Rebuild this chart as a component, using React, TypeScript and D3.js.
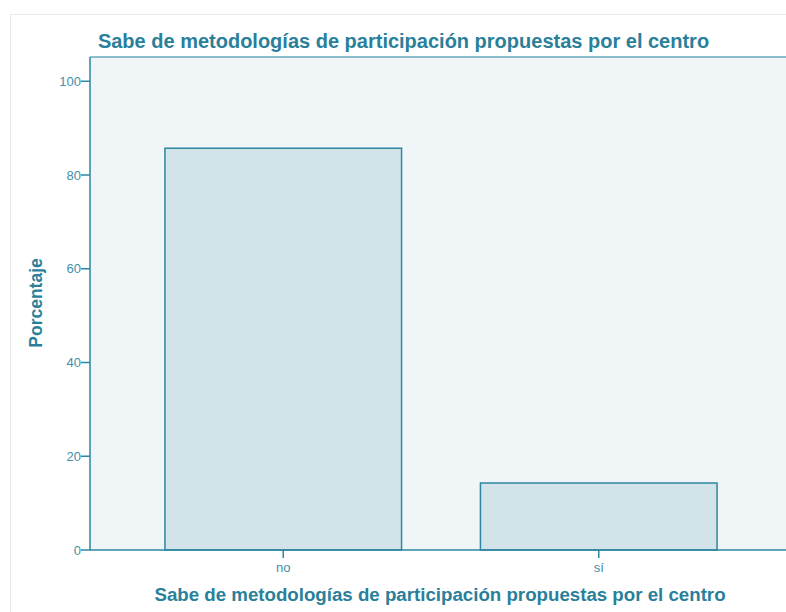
import React from "react";
import * as d3 from "d3";

const categories = ["no", "sí"];
const values = [85.71, 14.29];
const yTicks = [0, 20, 40, 60, 80, 100];
const title = "Sabe de metodologías de participación propuestas por el centro";
const xTitle = "Sabe de metodologías de participación propuestas por el centro";
const yTitle = "Porcentaje";

const W = 786;
const H = 612;
const plotLeft = 90;
const plotTop = 57;
const plotBottom = 550;
const plotRight = 800;

const dark = "#2a7f9a";
const axisColor = "#2e86a0";
const tickText = "#3f90a8";

export default function App() {
  const y = d3.scaleLinear().domain([0, 100]).range([plotBottom, 81.25]);
  const x = d3
    .scaleBand<string>()
    .domain(categories)
    .range([125.5, 756.5])
    .paddingInner(0.25)
    .paddingOuter(0.125);

  return (
    <svg
      width={W}
      height={H}
      style={{ position: "absolute", left: 0, top: 0, display: "block", fontFamily: "Liberation Sans, Arial, sans-serif" }}
    >
      <rect x={0} y={0} width={W} height={H} fill="#ffffff" />
      <rect x={10.5} y={14.5} width={W + 20} height={H + 20} fill="#ffffff" stroke="#e3ecef" strokeWidth={1} />
      <text x={403.5} y={48} textAnchor="middle" fontSize={20} fontWeight="bold" fill={dark}>
        {title}
      </text>
      <rect x={plotLeft} y={plotTop} width={plotRight - plotLeft} height={plotBottom - plotTop} fill="#f0f5f8" />
      <line x1={plotLeft} x2={plotRight} y1={plotTop} y2={plotTop} stroke="#6aa9bb" strokeWidth={1.5} />
      {categories.map((c, i) => (
        <rect
          key={c}
          x={x(c)}
          y={y(values[i])}
          width={x.bandwidth()}
          height={plotBottom - y(values[i])}
          fill="#d2e4ea"
          stroke={axisColor}
          strokeWidth={1.5}
        />
      ))}
      <line x1={plotLeft} x2={plotLeft} y1={plotTop} y2={plotBottom} stroke={axisColor} strokeWidth={1.5} />
      <line x1={plotLeft} x2={plotRight} y1={plotBottom} y2={plotBottom} stroke={axisColor} strokeWidth={1.5} />
      {yTicks.map((t) => (
        <g key={t}>
          <line x1={plotLeft - 9} x2={plotLeft} y1={y(t)} y2={y(t)} stroke={axisColor} strokeWidth={1.5} />
          <text x={plotLeft - 9} y={y(t)} dy="0.35em" textAnchor="end" fontSize={13} fill={tickText}>
            {t}
          </text>
        </g>
      ))}
      {categories.map((c) => {
        const cx = (x(c) as number) + x.bandwidth() / 2;
        return (
          <g key={c}>
            <line x1={cx} x2={cx} y1={plotBottom} y2={plotBottom + 8} stroke={axisColor} strokeWidth={1.5} />
            <text x={cx} y={572} textAnchor="middle" fontSize={13} fill={tickText}>
              {c}
            </text>
          </g>
        );
      })}
      <text x={440} y={601} textAnchor="middle" fontSize={18.7} fontWeight="bold" fill={dark}>
        {xTitle}
      </text>
      <text
        transform={`translate(42,303) rotate(-90)`}
        textAnchor="middle"
        fontSize={17.5}
        fontWeight="bold"
        fill={dark}
      >
        {yTitle}
      </text>
    </svg>
  );
}
